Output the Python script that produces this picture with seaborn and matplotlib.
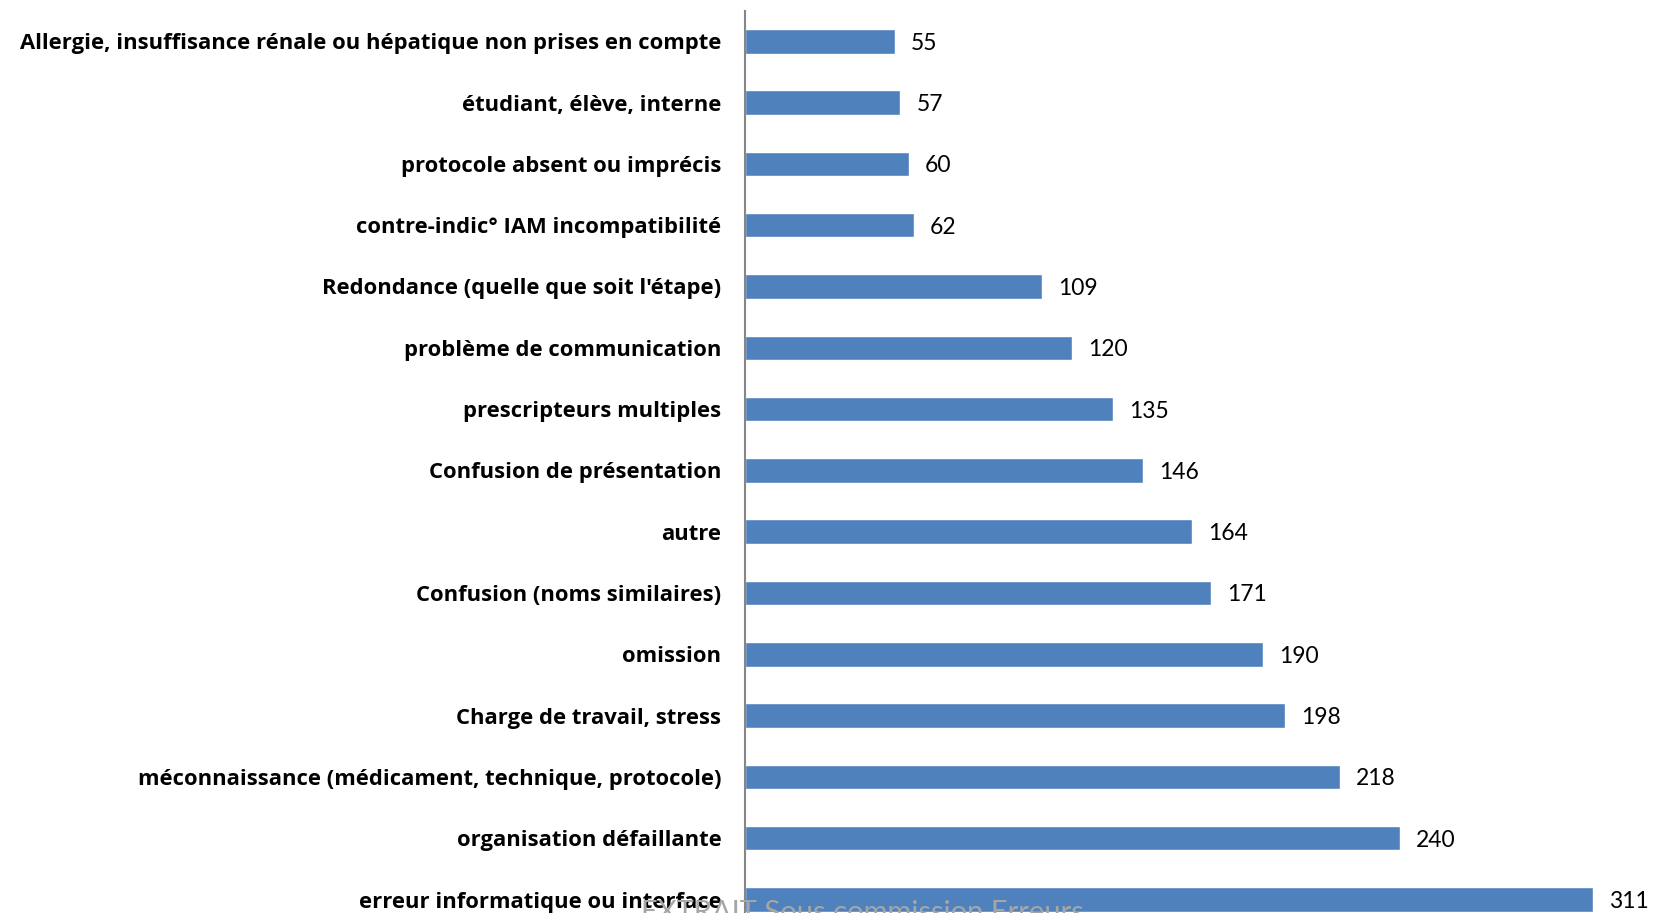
import matplotlib
matplotlib.use("Agg")
from matplotlib import pyplot as plt
import seaborn as sns
import pandas as pd

# données (du haut vers le bas)
causes = [
    "Allergie, insuffisance rénale ou hépatique non prises en compte",
    "étudiant, élève, interne",
    "protocole absent ou imprécis",
    "contre-indic° IAM incompatibilité",
    "Redondance (quelle que soit l'étape)",
    "problème de communication",
    "prescripteurs multiples",
    "Confusion de présentation",
    "autre",
    "Confusion (noms similaires)",
    "omission",
    "Charge de travail, stress",
    "méconnaissance (médicament, technique, protocole)",
    "organisation défaillante",
    "erreur informatique ou interface",
]
nombres = [55, 57, 60, 62, 109, 120, 135, 146, 164, 171, 190, 198, 218, 240, 311]

df = pd.DataFrame({"cause": causes, "n": nombres})

sns.set_style("white")
plt.rcParams['font.family'] = ['Lato', 'DejaVu Sans']

fig = plt.figure(figsize=(16.57, 9.13), dpi=100)
ax = fig.add_axes([745 / 1657, 0, 1 - 745 / 1657, 1 - 10.6 / 913])

sns.barplot(data=df, y="cause", x="n", orient="h", color="#4F81BD",
            width=0.4, saturation=1, ax=ax)

ax.set_xlim(0, 334.4)
ax.set_ylim(14.22, -0.5)
ax.set_xlabel("")
ax.set_ylabel("")
ax.set_xticks([])
for s in ["top", "right", "bottom"]:
    ax.spines[s].set_visible(False)
ax.spines["left"].set_color("#868686")
ax.spines["left"].set_linewidth(1.5)

ax.tick_params(axis="y", length=0, pad=17, labelcolor="black")
for lab in ax.get_yticklabels():
    lab.set_family(["Open Sans", "DejaVu Sans"])
    lab.set_fontweight("bold")
    lab.set_fontsize(15.8)

vals = ax.bar_label(ax.containers[0], padding=11.5, fontsize=16.5, color="black")
for t in vals:
    t.set_va("center_baseline")

# filigrane en bas
fig.text(862 / 1657, 1 - 900 / 913, "EXTRAIT Sous commission Erreurs",
         ha="center", va="top", fontsize=21, color="#a6a6a6")

plt.savefig("out.png", dpi=100)
